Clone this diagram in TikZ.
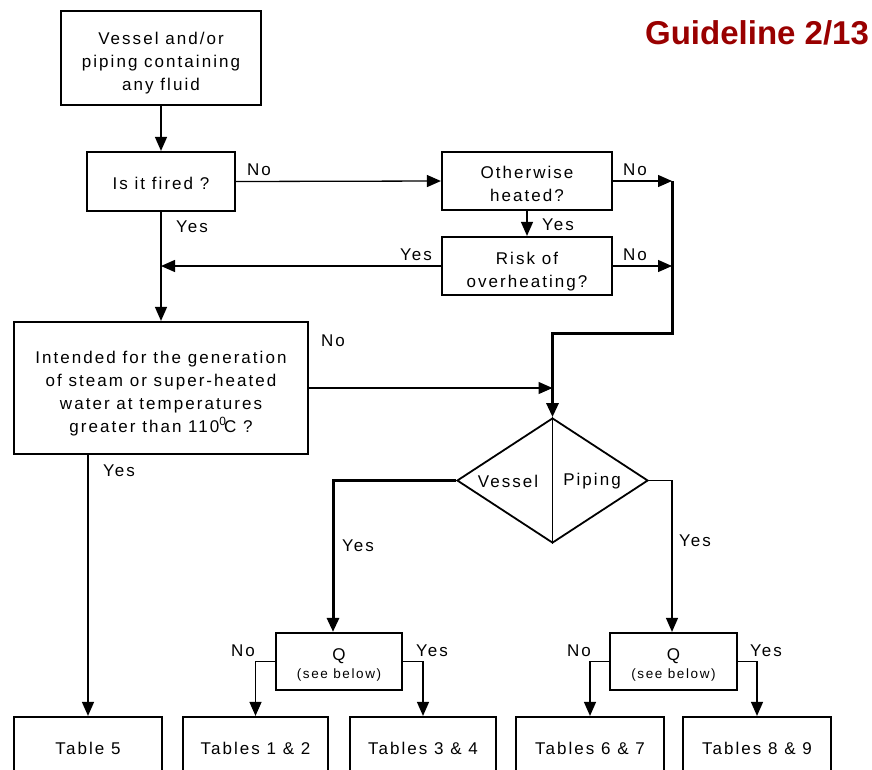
\documentclass[tikz,border=0pt]{standalone}
\usepackage{fontspec}
\setmainfont{Liberation Sans}[LetterSpace=12]
\newfontfamily\titlefont{Liberation Sans}
\usetikzlibrary{arrows.meta,shapes.geometric,calc}
\definecolor{titlered}{RGB}{153,0,0}
\newcommand{\mlines}[2][-5pt]{\raisebox{#1}[\height][\depth]{\begin{tabular}{@{}c@{}}#2\end{tabular}}}
\begin{document}
\begin{tikzpicture}[x=1pt,y=-1pt,
  every node/.style={font=\fontsize{17}{23}\selectfont},
  box/.style={draw,line width=2.2pt,align=center,inner sep=0pt},
  conn/.style={line width=1.3pt,-{Triangle[length=14pt,width=12pt]}},
  thick conn/.style={line width=3pt,-{Triangle[length=14pt,width=12pt]}},
  lbl/.style={inner sep=0pt,font=\fontsize{17}{19}\selectfont}
]
\useasboundingbox (0,0) rectangle (872,769);
\clip (0,0) rectangle (872,769);

% title
\node[inner sep=0pt,text=titlered,font=\fontsize{33}{38}\selectfont\bfseries\titlefont] (title) at (757,33) {Guideline 2/13};

% boxes
\node[box,minimum width=200pt,minimum height=94pt] (top) at (161,58) {\mlines{Vessel and/or\\piping containing\\any fluid}};
\node[box,minimum width=148pt,minimum height=59pt] (fired) at (161,181.5) {\mlines[-3.5pt]{Is it fired ?}};
\node[box,minimum width=170pt,minimum height=58pt] (oth) at (527,181) {\mlines[-4pt]{Otherwise\\heated?}};
\node[box,minimum width=170pt,minimum height=58pt] (risk) at (527,266) {\mlines[-5pt]{Risk of\\overheating?}};
\node[box,minimum width=294pt,minimum height=132pt] (int) at (161,388) {\mlines[-5pt]{Intended for the generation\\of steam or super-heated\\water at temperatures\\greater than 110\textsuperscript{0}\hspace{-2.5pt}C ?}};
\node[draw,diamond,line width=1.8pt,inner sep=0pt,minimum width=191pt,minimum height=125pt] (d) at (552.5,480.5) {};
\draw[line width=1.8pt] (d.north) -- (d.south);
\node[inner sep=0pt] (dv) at (508,481) {Vessel};
\node[inner sep=0pt] (dp) at (592,481) {Piping};

\node[box,minimum width=126pt,minimum height=57pt] (q1) at (339,661.5) {};
\node[box,minimum width=127pt,minimum height=57pt] (q2) at (673.5,661.5) {};
\node[inner sep=0pt] (q1t) at (339,656) {Q};
\node[inner sep=0pt,font=\fontsize{13.5}{15}\selectfont] (q1s) at (339,675) {(see below)};
\node[inner sep=0pt] (q2t) at (673.5,656) {Q};
\node[inner sep=0pt,font=\fontsize{13.5}{15}\selectfont] (q2s) at (673.5,675) {(see below)};

\node[box,minimum width=148pt,minimum height=62pt] (t5) at (88,748) {Table 5};
\node[box,minimum width=145pt,minimum height=62pt] (t12) at (255.5,748) {Tables 1 \& 2};
\node[box,minimum width=146pt,minimum height=62pt] (t34) at (423,748) {Tables 3 \& 4};
\node[box,minimum width=148pt,minimum height=62pt] (t67) at (590,748) {Tables 6 \& 7};
\node[box,minimum width=148pt,minimum height=62pt] (t89) at (757,748) {Tables 8 \& 9};

% junction coordinates
\coordinate (j1) at (672,181);
\coordinate (j2) at (672,266);
\coordinate (j3) at (672,333);

% connectors
\draw[conn] (top.south) -- (fired.north);
\draw[conn] (fired.east) -- (oth.west);
\draw[conn] (oth.south) -- (risk.north);
\draw[conn] (oth.east) -- (j1);
\draw[conn] (risk.east) -- (j2);
\draw[conn] (risk.west) -- (risk.west -| fired.south);
\draw[conn] (fired.south) -- (int.north);
\draw[thick conn] (j1) -- (j3) -| (d.north);
\draw[conn] (int.east) -- (int.east -| d.north);
\draw[conn] (int.south -| t5.north) -- (t5.north);
\draw[thick conn] (d.west) -| ([xshift=-6pt]q1.north);
\draw[conn] (d.east) -| ([xshift=-1.5pt]q2.north);
\draw[conn] (q1.west) -| (t12.north);
\draw[conn] (q1.east) -| (t34.north);
\draw[conn] (q2.west) -| (t67.north);
\draw[conn] (q2.east) -| (t89.north);

% labels
\node[lbl] (l1) at (259,170) {No};
\node[lbl] (l2) at (192,227) {Yes};
\node[lbl] (l3) at (416,255) {Yes};
\node[lbl] (l4) at (635,170) {No};
\node[lbl] (l5) at (558,225) {Yes};
\node[lbl] (l6) at (635,255) {No};
\node[lbl] (l7) at (333,341) {No};
\node[lbl] (l8) at (119,471) {Yes};
\node[lbl] (l9) at (358,546) {Yes};
\node[lbl] (l10) at (695,541) {Yes};
\node[lbl] (l11) at (243,651) {No};
\node[lbl] (l12) at (432,651) {Yes};
\node[lbl] (l13) at (579,651) {No};
\node[lbl] (l14) at (766,651) {Yes};
\end{tikzpicture}
\end{document}
